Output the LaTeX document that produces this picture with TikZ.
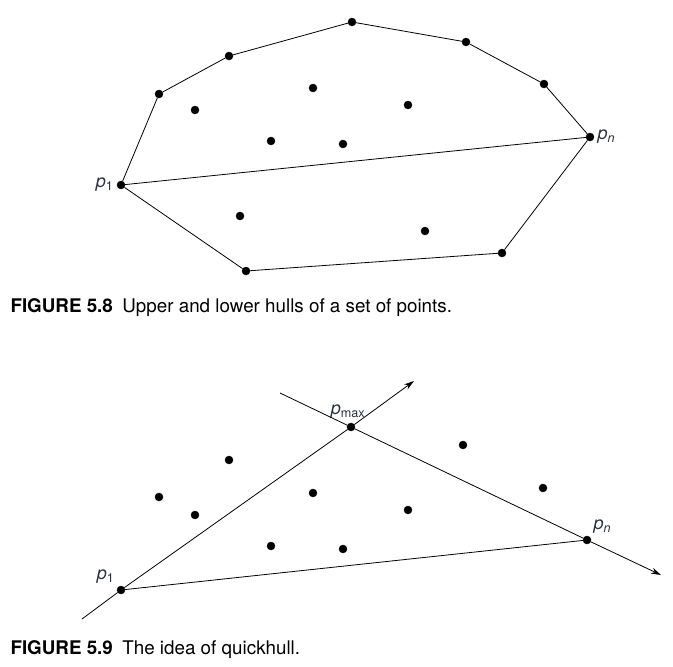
\documentclass[tikz,border=0pt]{standalone}
\usepackage{fontspec}
\setmainfont{TeX Gyre Heros}
\usetikzlibrary{arrows.meta}
\definecolor{labelgray}{HTML}{2B3140}
\newcommand{\pnt}[1]{\textit{p}\textsubscript{#1}}

\begin{document}
\begin{tikzpicture}[x=1pt, y=-1pt, font=\fontsize{18.8}{22}\selectfont,
  dot/.style={draw, circle, fill, inner sep=0pt, minimum size=8pt},
  hull/.style={line width=0.8pt, black},
  ray/.style={line width=0.8pt, black, -{Stealth[length=10pt, width=6pt]}},
  lbl/.style={text=labelgray, font=\fontsize{18}{20}\selectfont}]
\useasboundingbox (0, 0) rectangle (673, 667);

% Figure 5.8
\node [dot, label={[lbl]left:\pnt{1}}] (A1) at (121, 185) {};
\node [dot, label={[lbl]right:\pnt{\textit{n}}}] (An) at (590, 137) {};
\node [dot] (U1) at (159, 94) {};
\node [dot] (U2) at (229, 56) {};
\node [dot] (U3) at (352, 22) {};
\node [dot] (U4) at (466, 42) {};
\node [dot] (U5) at (544, 84) {};
\node [dot] (L1) at (246, 271) {};
\node [dot] (L2) at (502, 253) {};
\node [dot] (I1) at (195, 110) {};
\node [dot] (I2) at (313, 88) {};
\node [dot] (I3) at (408, 105) {};
\node [dot] (I4) at (271, 141) {};
\node [dot] (I5) at (343, 144) {};
\node [dot] (I6) at (240, 216) {};
\node [dot] (I7) at (425, 231) {};
\draw [hull] (A1) -- (U1) -- (U2) -- (U3) -- (U4) -- (U5) -- (An);
\draw [hull] (A1) -- (L1) -- (L2) -- (An);
\draw [hull] (A1) -- (An);
\node [anchor=west] (cap8) at (7, 308) {\textbf{FIGURE 5.8}\enspace Upper and lower hulls of a set of points.};

% Figure 5.9
\node [dot, label={[lbl]above left:\pnt{1}}] (B1) at (121, 590) {};
\node [dot, label={[lbl]above right:\pnt{\textit{n}}}] (Bn) at (587, 540) {};
\node [dot, label={[lbl, xshift=-3pt, yshift=1pt]above:\pnt{max}}] (Bmax) at (351, 427) {};
\node [dot] (J1) at (229, 460) {};
\node [dot] (J2) at (463, 445) {};
\node [dot] (J3) at (159, 497) {};
\node [dot] (J4) at (313, 493) {};
\node [dot] (J5) at (543, 488) {};
\node [dot] (J6) at (195, 515) {};
\node [dot] (J7) at (408, 510) {};
\node [dot] (J8) at (271, 546) {};
\node [dot] (J9) at (343, 549) {};
\coordinate (r1) at (82, 619);
\coordinate (r2) at (414, 381);
\coordinate (s1) at (280, 393);
\coordinate (s2) at (661, 575);
\draw [hull] (r1) -- (B1);
\draw [hull] (B1) -- (Bmax);
\draw [ray] (Bmax) -- (r2);
\draw [hull] (s1) -- (Bmax);
\draw [hull] (Bmax) -- (Bn);
\draw [ray] (Bn) -- (s2);
\draw [hull] (B1) -- (Bn);
\node [anchor=west] (cap9) at (7, 650) {\textbf{FIGURE 5.9}\enspace The idea of quickhull.};
\end{tikzpicture}
\end{document}
